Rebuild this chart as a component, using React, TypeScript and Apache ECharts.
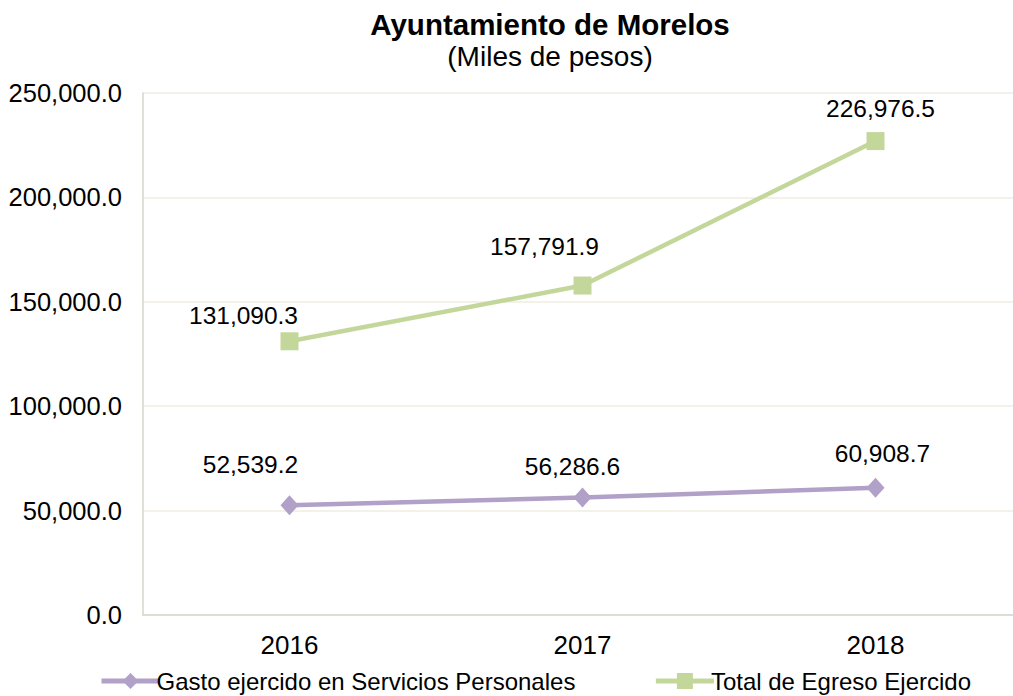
import React, { useEffect, useRef } from "react";
import * as echarts from "echarts";

const categories = ["2016", "2017", "2018"];
const gastoServicios = [52539.2, 56286.6, 60908.7];
const totalEgreso = [131090.3, 157791.9, 226976.5];
const seriesNames = ["Gasto ejercido en Servicios Personales", "Total de Egreso Ejercido"];

const gastoLabelOffsets = [[-39, -41], [-10, -31], [7, -34]];
const totalLabelOffsets = [[-46, -26], [-38, -39], [5, -33]];

const FONT = "'Liberation Sans', Arial, sans-serif";

const fmt = (v: number) =>
  v.toLocaleString("en-US", { minimumFractionDigits: 1, maximumFractionDigits: 1 });

export default function App() {
  const ref = useRef<HTMLDivElement>(null);
  useEffect(() => {
    if (!ref.current) return;
    const chart = echarts.init(ref.current, null, { renderer: "svg" });
    const mkData = (vals: number[], offs: number[][]) =>
      vals.map((v, i) => ({
        value: v,
        label: { offset: offs[i] },
      }));
    chart.setOption({
      animation: false,
      backgroundColor: "#ffffff",
      title: {
        text: "Ayuntamiento de Morelos",
        subtext: "(Miles de pesos)",
        left: 545,
        textAlign: "center",
        top: 4,
        itemGap: 3,
        textStyle: { fontFamily: FONT, fontSize: 29.5, fontWeight: "bold", color: "#000" },
        subtextStyle: { fontFamily: FONT, fontSize: 28, color: "#000" },
      },
      grid: { left: 143, top: 93, right: 0, bottom: 81, containLabel: false },
      legend: {
        left: 94,
        top: 664,
        itemWidth: 58,
        itemHeight: 20,
        itemGap: 78,
        lineStyle: { width: 5 },
        textStyle: { fontFamily: FONT, fontSize: 24, color: "#000", padding: [0, 0, 0, -8] },
        data: seriesNames,
      },
      xAxis: {
        type: "category",
        data: categories,
        boundaryGap: true,
        axisLine: { show: true, lineStyle: { color: "#d6d6c8", width: 1.5 } },
        axisTick: { show: false },
        axisLabel: { fontFamily: FONT, fontSize: 26, color: "#000", margin: 17 },
      },
      yAxis: {
        type: "value",
        min: 0,
        max: 250000,
        interval: 50000,
        axisLine: { show: true, lineStyle: { color: "#d6d6c8", width: 1.5 } },
        axisTick: { show: false },
        splitLine: { show: true, lineStyle: { color: "#f0ede2", width: 1.5 } },
        axisLabel: {
          fontFamily: FONT,
          fontSize: 25.5,
          color: "#000",
          margin: 21,
          formatter: (v: number) => fmt(v),
        },
      },
      series: [
        {
          name: seriesNames[0],
          type: "line",
          data: mkData(gastoServicios, gastoLabelOffsets),
          symbol: "diamond",
          symbolSize: [18, 20],
          itemStyle: { color: "#b1a0c7" },
          lineStyle: { color: "#b1a0c7", width: 4.5 },
          label: {
            show: true,
            position: "inside",
            fontFamily: FONT,
            fontSize: 24.5,
            color: "#000",
            formatter: (p: any) => fmt(p.value),
          },
        },
        {
          name: seriesNames[1],
          type: "line",
          data: mkData(totalEgreso, totalLabelOffsets),
          symbol: "rect",
          symbolSize: 18,
          itemStyle: { color: "#c4d79b" },
          lineStyle: { color: "#c4d79b", width: 4.5 },
          label: {
            show: true,
            position: "inside",
            fontFamily: FONT,
            fontSize: 24.5,
            color: "#000",
            formatter: (p: any) => fmt(p.value),
          },
        },
      ],
    });
    return () => chart.dispose();
  }, []);
  return (
    <div
      style={{ position: "fixed", left: 0, top: 0, width: 1013, height: 696, overflow: "hidden" }}
    >
      <div ref={ref} style={{ width: 1022, height: 696 }} />
    </div>
  );
}
